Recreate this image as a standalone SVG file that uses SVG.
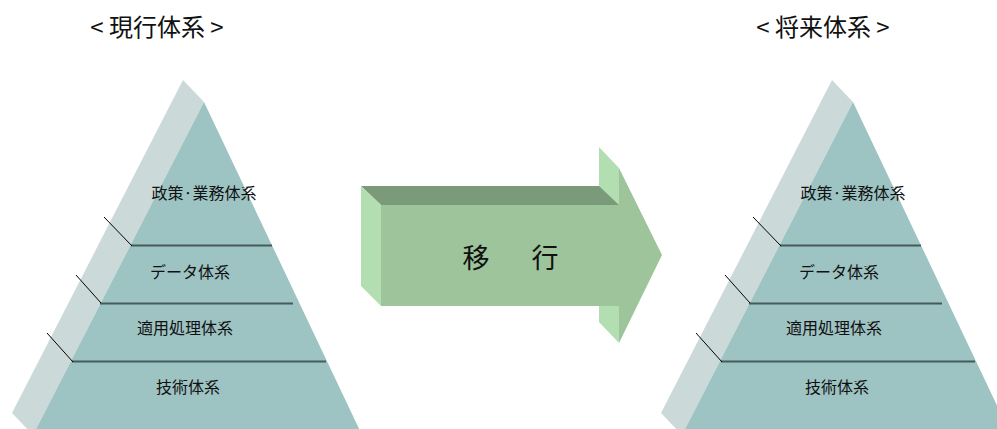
<svg xmlns="http://www.w3.org/2000/svg" width="997" height="429" viewBox="0 0 997 429">
<style>
.t{font-family:"Noto Sans CJK JP","Noto Sans",sans-serif;fill:#111;text-anchor:middle}
.title{font-size:24px}
.lbl{font-size:16px}
.big{font-size:27px}
.shadow{fill:#cbd9d9}
.face{fill:#9dc3c3}
.sep{stroke:#475b5b;stroke-width:2;fill:none}
.tick{stroke:#000;stroke-width:1;fill:none}
</style>
<defs>
<g id="pyr">
<polygon class="shadow" points="183,80 204,102 33,435 12,413"/>
<polygon class="face" points="204,102 362,435 33,435"/>
<line class="sep" x1="131" y1="245.5" x2="272" y2="245.5"/>
<line class="sep" x1="100" y1="303.5" x2="293" y2="303.5"/>
<line class="sep" x1="72" y1="361.5" x2="326" y2="361.5"/>
<line class="tick" x1="104" y1="217" x2="132" y2="246"/>
<line class="tick" x1="76" y1="275" x2="101" y2="303"/>
<line class="tick" x1="47" y1="333" x2="73" y2="362"/>
</g>
</defs>
<g id="current-title"><text class="t title" x="157" y="36">&lt; 現行体系 &gt;</text></g>
<g id="future-title"><text class="t title" x="823" y="36">&lt; 将来体系 &gt;</text></g>
<g id="current-pyramid">
<use href="#pyr"/>
<g id="current-policy"><text class="t lbl" x="204" y="199">政策·業務体系</text></g>
<g id="current-data"><text class="t lbl" x="190" y="278">データ体系</text></g>
<g id="current-app"><text class="t lbl" x="185" y="334">適用処理体系</text></g>
<g id="current-tech"><text class="t lbl" x="188" y="393">技術体系</text></g>
</g>
<g id="future-pyramid">
<use href="#pyr" transform="translate(649,0)"/>
<g id="future-policy"><text class="t lbl" x="853" y="199">政策·業務体系</text></g>
<g id="future-data"><text class="t lbl" x="839" y="278">データ体系</text></g>
<g id="future-app"><text class="t lbl" x="834" y="334">適用処理体系</text></g>
<g id="future-tech"><text class="t lbl" x="837" y="393">技術体系</text></g>
</g>
<g id="connectors">
<g id="migration-arrow">
<polygon fill="#b3deb1" points="599,147 619,168 619,343 599,322"/>
<polygon fill="#7a9a7a" points="361,186 599,186 619,205 381,205"/>
<polygon fill="#b3deb1" points="361,186 381,205 381,306 361,286"/>
<polygon fill="#9dc49a" points="381,205 619,205 619,168 662,255 619,343 619,306 381,306"/>
<text class="t big" x="476" y="268">移</text>
<text class="t big" x="545" y="268">行</text>
</g>
</g>
</svg>
